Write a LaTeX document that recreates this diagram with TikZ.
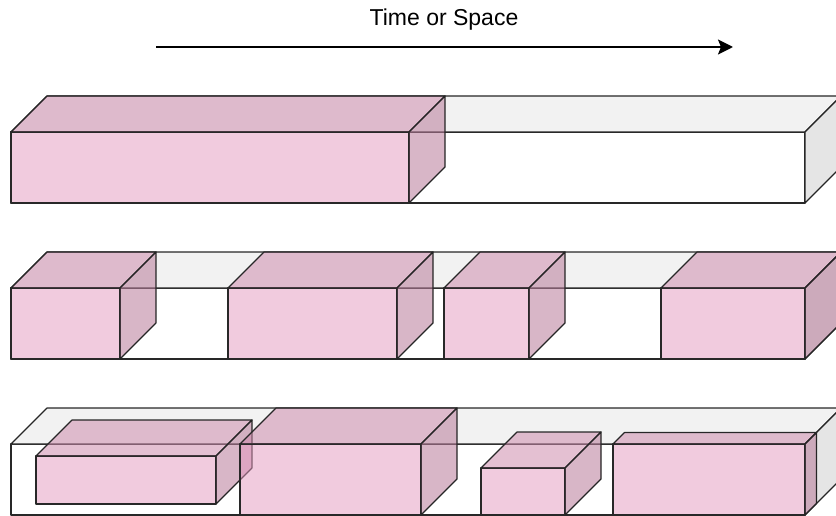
\documentclass[tikz,border=0pt]{standalone}
\usepackage{fontspec}
\setmainfont{Liberation Sans}
\usetikzlibrary{arrows.meta}

\definecolor{boxpink}{RGB}{228,152,190}
\definecolor{edgegray}{RGB}{40,40,40}

\tikzset{
  edge/.style={draw=edgegray, line width=1.2pt, line join=round},
  cont/.style={edge, fill=white},
  block/.style={edge, fill=boxpink, fill opacity=.5},
  dark/.style={postaction={fill=black, fill opacity=#1}},
  title/.style={font=\fontsize{23}{28}\selectfont, inner sep=0pt},
  timearrow/.style={line width=2pt, -{Stealth[length=15pt,width=15pt,inset=3pt]}},
}

% #2,#3 front top-left corner, #4 width, #5 height, #6 depth
\newcommand{\cuboid}[6][block]{%
  \path[#1] (#2,#3) rectangle ++(#4,#5);
  \path[#1,dark=.05] (#2,#3) -- ++(#6,-#6) -- ++(#4,0) -- ++(-#6,#6) -- cycle;
  \path[#1,dark=.1] (#2+#4,#3) -- ++(#6,-#6) -- ++(0,#5) -- ++(-#6,#6) -- cycle;
}

\begin{document}
\begin{tikzpicture}[x=1pt,y=-1pt]
\useasboundingbox (0,0) rectangle (836,516);

\node[title, anchor=base] (label) at (444,25.7) {Time or Space};
\coordinate (start) at (156,47);
\coordinate (end) at (733,47);
\draw[timearrow] (start) -- (end);

% one big block
\cuboid[cont]{11}{132}{794}{71}{36}
\cuboid{11}{132}{398}{71}{36}

% several blocks with gaps
\cuboid[cont]{11}{288}{794}{71}{36}
\foreach \x/\w in {11/109, 228/169, 444/85, 661/144}
{
	\cuboid{\x}{288}{\w}{71}{36}
}

% blocks of different sizes
\cuboid[cont]{11}{444}{794}{71}{36}
\foreach \x/\y/\w/\h/\d in {36/456/180/48/36, 240/444/181/71/36, 481/468/84/47/36, 613/444/192/71/11.5}
{
	\cuboid{\x}{\y}{\w}{\h}{\d}
}
\end{tikzpicture}
\end{document}
